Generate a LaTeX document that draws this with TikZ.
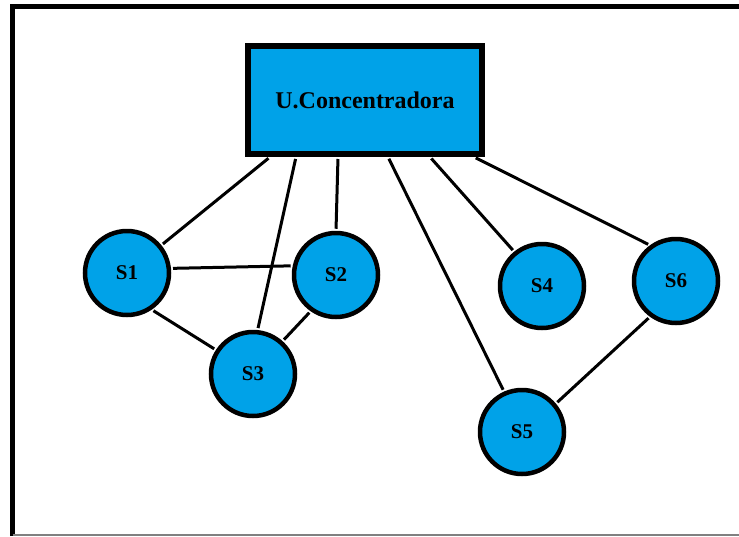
\documentclass[tikz,border=0pt]{standalone}
\usepackage{fontspec}
\setmainfont{Liberation Serif}
\usepackage{xcolor}
\definecolor{paintblue}{RGB}{0, 162, 232}

\begin{document}
\begin{tikzpicture}[x=1pt, y=-1pt,
    concbox/.style={draw, line width=6pt, fill=paintblue, minimum width=234pt,
                    minimum height=108pt, font=\fontsize{24}{28}\selectfont\bfseries},
    sensor/.style={circle, draw, line width=4.5pt, fill=paintblue, minimum size=84pt,
                   inner sep=0pt, font=\fontsize{21}{24}\selectfont\bfseries},
    link/.style={line width=3pt, shorten <=2pt, shorten >=2pt}]

    \useasboundingbox (0,0) rectangle (739,536);

    % ==========================================================
    % marco
    % ==========================================================
    \draw[line width=5pt] (12.5,536) -- (12.5,6.5) -- (739,6.5);
    \draw[line width=2pt, gray] (12.5,534.5) -- (739,534.5);

    % ==========================================================
    % unidad concentradora y sensores
    % ==========================================================
    \node[concbox] (uc) at (365,100) {U.Concentradora};

    \foreach \n/\x/\y in {1/127/273, 2/336/275, 3/253/374,
                          4/542/286, 5/522/432, 6/676/281} {
        \node[sensor] (s\n) at (\x,\y) {S\n};
    }

    % enlaces desde la unidad
    \foreach \dx/\n/\a in {-95/1/39, -69/3/84, -27/2/90,
                           23/5/114, 65/4/129, 109/6/126} {
        \draw[link] ([xshift=\dx pt]uc.south) -- (s\n.\a);
    }

    % enlaces entre sensores
    \draw[link] (s1.6)   -- (s2.168);
    \draw[link] (s1.-56) -- (s3.147);
    \draw[link] (s2.235) -- (s3.48);
    \draw[link] (s6.234) -- (s5.40);

\end{tikzpicture}
\end{document}
